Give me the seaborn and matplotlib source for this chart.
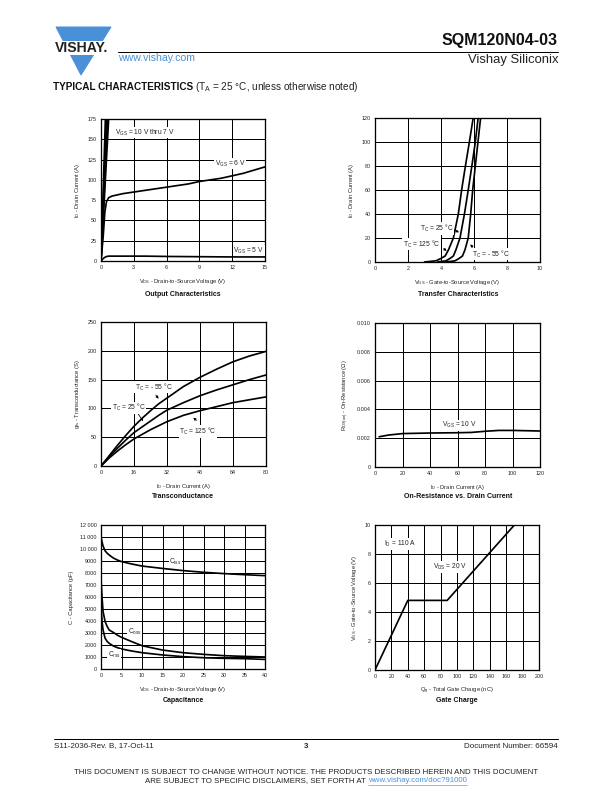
import numpy as np
import pandas as pd
import matplotlib
matplotlib.use("Agg")
import matplotlib.pyplot as plt
import seaborn as sns
from matplotlib.patches import Polygon, Rectangle

sns.set_style("white")
plt.rcParams['font.family'] = ['Liberation Sans', 'DejaVu Sans']
plt.rcParams['mathtext.default'] = 'regular'

# ---- data ----
# output characteristics
out_vds_lin = [0, 0.4, 0.8]
out_id_10v = [0, 175, 350]
out_id_9v = [0, 140, 280]
out_id_8v = [0, 117, 233]
out_id_7v = [0, 100, 200]
out_vds = [0, 0.2, 0.35, 0.5, 0.7, 1, 2, 3, 4, 5, 6, 7, 8, 9, 10, 11, 12, 13, 14, 15]
out_id_6v = [0, 30, 60, 73, 78, 80, 83, 85, 87, 89, 91, 93, 95, 98, 100, 102, 105, 108, 112, 116]
out_id_5v = [0, 3, 4.5, 5.5, 6, 6, 6, 6, 6, 5.8, 5.6, 5.5, 5.4, 5.3, 5.2, 5.1, 5, 5, 5, 5]

# transfer characteristics
tr_id = [0, 1, 3, 5, 10, 20, 40, 60, 80, 100, 120, 130]
tr_vgs_125 = [3.0, 3.7, 4.0, 4.25, 4.45, 4.75, 5.05, 5.25, 5.48, 5.72, 5.95, 6.05]
tr_vgs_25 = [3.8, 4.3, 4.55, 4.75, 4.9, 5.15, 5.42, 5.65, 5.87, 6.08, 6.25, 6.33]
tr_vgs_m55 = [4.3, 4.85, 5.1, 5.3, 5.45, 5.65, 5.8, 5.92, 6.08, 6.24, 6.4, 6.48]

# transconductance
gfs_id = [0, 4, 8, 12, 16, 20, 24, 28, 32, 40, 48, 56, 64, 72, 80]
gfs_m55 = [0, 18, 36, 53, 69, 83, 96, 108, 118, 138, 154, 168, 181, 191, 199]
gfs_25 = [0, 16, 31, 45, 58, 68, 78, 88, 97, 110, 122, 132, 141, 150, 158]
gfs_125 = [0, 14, 26, 37, 47, 55, 63, 70, 77, 88, 96, 103, 110, 115, 120]

# on-resistance
ron_id = [3, 10, 20, 30, 40, 50, 60, 70, 80, 90, 100, 110, 120]
ron_r = [0.00210, 0.00222, 0.00232, 0.00234, 0.00236, 0.00237, 0.00238, 0.00240, 0.00248,
         0.00254, 0.00254, 0.00252, 0.00250]

# capacitance
cap_vds = [0, 0.25, 0.5, 1, 1.5, 2, 3, 4, 5, 7.5, 10, 15, 20, 25, 30, 35, 40]
cap_ciss = [11000, 10600, 10250, 9850, 9650, 9500, 9250, 9080, 8950, 8750, 8580, 8380, 8200,
            8060, 7950, 7860, 7780]
cap_coss = [7550, 6000, 4800, 3950, 3550, 3250, 3050, 2820, 2640, 2280, 1940, 1580, 1360,
            1220, 1110, 1050, 1000]
cap_crss = [5200, 4000, 3250, 2560, 2300, 2140, 1920, 1780, 1670, 1500, 1360, 1170, 1030,
            940, 890, 860, 800]

# gate charge
qg = [0, 40, 88, 170]
qg_vgs = [0, 4.8, 4.8, 10]

TXT = '#222222'
fig = plt.figure(figsize=(8.5, 11), dpi=72)
bg = fig.add_axes([0, 0, 1, 1])
bg.set_xlim(0, 612)
bg.set_ylim(792, 0)
bg.axis('off')


def px_axes(x0, y0, x1, y1):
    return fig.add_axes([x0 / 612, 1 - y1 / 792, (x1 - x0) / 612, (y1 - y0) / 792])


def curve(ax, x, y):
    sns.lineplot(x=x, y=y, color='black', linewidth=1.7, sort=False, estimator=None, ax=ax)


def style(ax, xlim, xticks, ylim, yticks, xlabel, ylabel, yticklabels=None):
    ax.set_xlim(xlim)
    ax.set_ylim(ylim)
    ax.set_xticks(xticks)
    ax.set_yticks(yticks)
    if yticklabels is not None:
        ax.set_yticklabels(yticklabels)
    ax.set_axisbelow(True)
    ax.grid(True, color='black', linewidth=1.0)
    for s in ax.spines.values():
        s.set_color('black')
        s.set_linewidth(1.3)
    ax.tick_params(length=0, labelsize=5.4, pad=4, colors=TXT)
    ax.set_xlabel(xlabel, fontsize=5.7, labelpad=7, color=TXT)
    ax.set_ylabel(ylabel, fontsize=5.7, labelpad=6, color=TXT)


def note(ax, x, y, s, **kw):
    ax.text(x, y, s, fontsize=6.6, va='center', color=TXT,
            bbox=dict(facecolor='white', edgecolor='none', pad=0.6), zorder=5, **kw)


def arrow(ax, x0, y0, x1, y1):
    ax.annotate('', xy=(x1, y1), xytext=(x0, y0),
                arrowprops=dict(arrowstyle='-|>', color='black', lw=0.8, mutation_scale=5))


# ---- output characteristics ----
ax1 = px_axes(101, 119, 265, 261)
for ids in [out_id_10v, out_id_9v, out_id_8v, out_id_7v]:
    curve(ax1, out_vds_lin, ids)
curve(ax1, out_vds, out_id_6v)
curve(ax1, out_vds, out_id_5v)
style(ax1, (0, 15), range(0, 16, 3), (0, 175), range(0, 176, 25),
      'V$_{DS}$ - Drain-to-Source Voltage (V)', 'I$_D$ - Drain Current (A)')
note(ax1, 1.3, 158, 'V$_{GS}$ = 10 V thru 7 V')
note(ax1, 10.4, 120, 'V$_{GS}$ = 6 V')
note(ax1, 12.1, 13, 'V$_{GS}$ = 5 V')

# ---- transfer characteristics ----
ax2 = px_axes(375, 118, 540, 262)
for vgs in [tr_vgs_125, tr_vgs_25, tr_vgs_m55]:
    curve(ax2, vgs, tr_id)
style(ax2, (0, 10), range(0, 11, 2), (0, 120), range(0, 121, 20),
      'V$_{GS}$ - Gate-to-Source Voltage (V)', 'I$_D$ - Drain Current (A)')
note(ax2, 2.7, 28, 'T$_C$ = 25 °C')
note(ax2, 1.7, 15, 'T$_C$ = 125 °C')
note(ax2, 5.85, 6.5, 'T$_C$ = - 55 °C')
arrow(ax2, 4.6, 28, 5.2, 24)
arrow(ax2, 4.05, 12, 4.45, 8.5)
arrow(ax2, 6.0, 11, 5.7, 16)

# ---- transconductance ----
ax3 = px_axes(101, 322, 266, 466)
for g in [gfs_m55, gfs_25, gfs_125]:
    curve(ax3, gfs_id, g)
style(ax3, (0, 80), range(0, 81, 16), (0, 250), range(0, 251, 50),
      'I$_D$ - Drain Current (A)', 'g$_{fs}$ - Transconductance (S)')
note(ax3, 16.5, 137, 'T$_C$ = - 55 °C')
note(ax3, 5.3, 101, 'T$_C$ = 25 °C')
note(ax3, 38, 60, 'T$_C$ = 125 °C')
arrow(ax3, 26, 126, 28.5, 114)
arrow(ax3, 17.5, 93, 21, 75)
arrow(ax3, 47, 77, 44, 86)

# ---- on-resistance ----
ax4 = px_axes(375, 323, 540, 467)
curve(ax4, ron_id, ron_r)
style(ax4, (0, 120), range(0, 121, 20), (0, 0.010), np.linspace(0, 0.010, 6),
      'I$_D$ - Drain Current (A)', 'R$_{DS(on)}$ - On-Resistance (Ω)',
      yticklabels=['0', '0.002', '0.004', '0.006', '0.008', '0.010'])
note(ax4, 48.6, 0.0029, 'V$_{GS}$ = 10 V')

# ---- capacitance ----
ax5 = px_axes(101, 525, 265, 669)
for c in [cap_ciss, cap_coss, cap_crss]:
    curve(ax5, cap_vds, c)
cap_ticks = list(range(0, 12001, 1000))
style(ax5, (0, 40), range(0, 41, 5), (0, 12000), cap_ticks,
      'V$_{DS}$ - Drain-to-Source Voltage (V)', 'C - Capacitance (pF)',
      yticklabels=[f'{t:,}'.replace(',', ' ') if t >= 10000 else str(t) for t in cap_ticks])
note(ax5, 16.7, 8950, 'C$_{iss}$')
note(ax5, 6.5, 3060, 'C$_{oss}$')
note(ax5, 1.6, 1170, 'C$_{rss}$')

# ---- gate charge ----
ax6 = px_axes(375, 525, 539, 670)
curve(ax6, qg, qg_vgs)
style(ax6, (0, 200), range(0, 201, 20), (0, 10), range(0, 11, 2),
      'Q$_g$ - Total Gate Charge (nC)', 'V$_{GS}$ - Gate-to-Source Voltage (V)')
note(ax6, 10.5, 8.7, 'I$_D$ = 110 A')
note(ax6, 70.4, 7.1, 'V$_{DS}$ = 20 V')

# ---- plot captions ----
for x, y, s in [(183, 295, 'Output Characteristics'), (458, 295, 'Transfer Characteristics'),
                (183, 497, 'Transconductance'), (458, 497, 'On-Resistance vs. Drain Current'),
                (183, 700, 'Capacitance'), (457, 700, 'Gate Charge')]:
    bg.text(x, y, s, ha='center', va='center', fontsize=7, fontweight='bold', color='#111111')

# ---- page header ----
blue = '#4A90D9'
bg.add_patch(Polygon([(56, 27), (111, 27), (81, 75)], closed=True, color=blue))
bg.add_patch(Rectangle((50, 40.5), 66, 13, color='white'))
bg.text(82, 47.5, 'VISHAY.', ha='center', va='center', fontsize=14, fontweight='bold',
        color='#222222')
bg.plot([118, 558], [51.5, 51.5], color='black', lw=1.0)
bg.text(118, 58, 'www.vishay.com', ha='left', va='center', fontsize=10.5, color=blue)
bg.text(558, 40, 'SQM120N04-03', ha='right', va='center', fontsize=16, fontweight='bold',
        color='#111111')
bg.text(558, 60, 'Vishay Siliconix', ha='right', va='center', fontsize=13, color=TXT)

renderer = fig.canvas.get_renderer()
t1 = bg.text(53, 87.5, 'TYPICAL CHARACTERISTICS', ha='left', va='center', fontsize=10,
             fontweight='bold', color='#111111')
w1 = t1.get_window_extent(renderer).width
bg.text(53 + w1 + 2, 87.5, '(T$_A$ = 25 °C, unless otherwise noted)', ha='left',
        va='center', fontsize=10, color=TXT)

# ---- page footer ----
bg.plot([54, 558], [738.5, 738.5], color='black', lw=1.0)
bg.text(54, 746, 'S11-2036-Rev. B, 17-Oct-11', ha='left', va='center', fontsize=8,
        color=TXT)
bg.text(306, 746.5, '3', ha='center', va='center', fontsize=8, fontweight='bold')
bg.text(558, 746, 'Document Number: 66594', ha='right', va='center', fontsize=8, color=TXT)
bg.text(306, 772, 'THIS DOCUMENT IS SUBJECT TO CHANGE WITHOUT NOTICE. THE PRODUCTS DESCRIBED '
        'HEREIN AND THIS DOCUMENT', ha='center', va='center', fontsize=7.9, color=TXT)
t2 = bg.text(0, 781, 'ARE SUBJECT TO SPECIFIC DISCLAIMERS, SET FORTH AT ', ha='left',
             va='center', fontsize=7.9, color=TXT)
t3 = bg.text(0, 781, 'www.vishay.com/doc?91000', ha='left', va='center', fontsize=7.9,
             color=blue)
wa = t2.get_window_extent(renderer).width
wb = t3.get_window_extent(renderer).width
x0 = 306 - (wa + wb) / 2
t2.set_x(x0)
t3.set_x(x0 + wa)
bg.plot([x0 + wa, x0 + wa + wb], [785, 785], color=blue, lw=0.6)

fig.savefig('out.png', dpi=72)
